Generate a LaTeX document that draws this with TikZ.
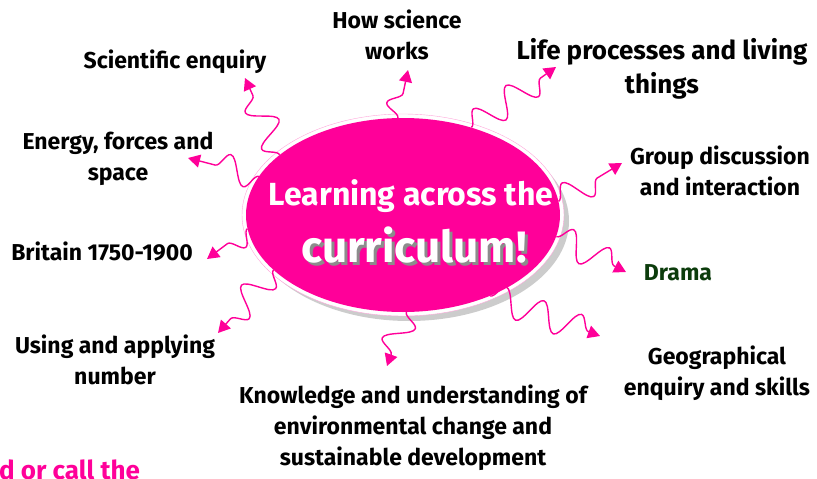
\documentclass[tikz,border=0pt]{standalone}
\usepackage{fontspec}
\setmainfont{Fira Sans}
\usetikzlibrary{positioning,shapes.geometric,decorations.pathmorphing,arrows.meta}
\definecolor{hotpink}{RGB}{255,0,153}
\definecolor{dramagreen}{RGB}{12,60,12}
\tikzset{
  topic/.style={font=\bfseries\fontsize{23}{31}\selectfont, align=center, text=black, inner sep=0pt},
  wiggle/.style={draw=hotpink, line width=1.4pt, -{Triangle[width=13pt,length=12pt]},
    decorate, decoration={snake, amplitude=14pt, segment length=40pt, post length=9pt}}
}
\begin{document}
\begin{tikzpicture}[x=1pt,y=-1pt]
\useasboundingbox (0,0) rectangle (817,479);

\fill[black!20] (409,221) ellipse [x radius=160pt, y radius=100pt];
\draw[hotpink!35, line width=.4pt, fill=white] (403,215) ellipse [x radius=161pt, y radius=101pt];
\node[ellipse, fill=hotpink, minimum width=314pt, minimum height=194pt, inner sep=0pt] (cur) at (403,215) {};

\node[text=white, font=\bfseries\fontsize{32}{34}\selectfont] (title) at (411,196) {Learning across the};
\node[text=black!45, font=\bfseries\fontsize{44}{46}\selectfont] at (417,248) {curriculum!};
\node[text=white, font=\bfseries\fontsize{44}{46}\selectfont] (subtitle) at (414,245) {curriculum!};

\node[topic] (howsci) at (397,35) {How science\\works};
\node[topic] (scienq) at (175,62) {Scientific enquiry};
\node[topic, font=\bfseries\fontsize{26}{34}\selectfont] (lifeproc) at (662,69) {Life processes and living\\things};
\node[topic] (energy) at (118,159) {Energy, forces and\\space};
\node[topic] (group) at (720,171) {Group discussion\\and interaction};
\node[topic] (britain) at (102,251) {Britain 1750-1900};
\node[topic, text=dramagreen] (drama) at (678,273) {Drama};
\node[topic] (using) at (115,360) {Using and applying\\number};
\node[topic] (geog) at (717,373) {Geographical\\enquiry and skills};
\node[topic] (knowl) at (413,428) {Knowledge and understanding of\\environmental change and\\sustainable development};
\node[anchor=base west, inner sep=0pt, text=hotpink, font=\bfseries\fontsize{26}{28}\selectfont] (callthe) at (-1,479) {d or call the};

\coordinate (howscitip) at (408,70);
\coordinate (scienqtip) at (245,78);
\coordinate (lifeproctip) at (556,67);
\coordinate (energytip) at (188,158);
\coordinate (grouptip) at (622,163);
\coordinate (britaintip) at (207,259);
\coordinate (dramatip) at (626,272);
\coordinate (usingtip) at (218,333);
\coordinate (geogtip) at (600,336);
\coordinate (knowltip) at (387,366);

\foreach \a/\t in {93/howscitip, 154/scienqtip, 52/lifeproctip, 165/energytip, 5/grouptip,
  185/britaintip, -8/dramatip, 203/usingtip, -43/geogtip, -88/knowltip}
  \draw[wiggle] (cur.\a) -- (\t);
\end{tikzpicture}
\end{document}
